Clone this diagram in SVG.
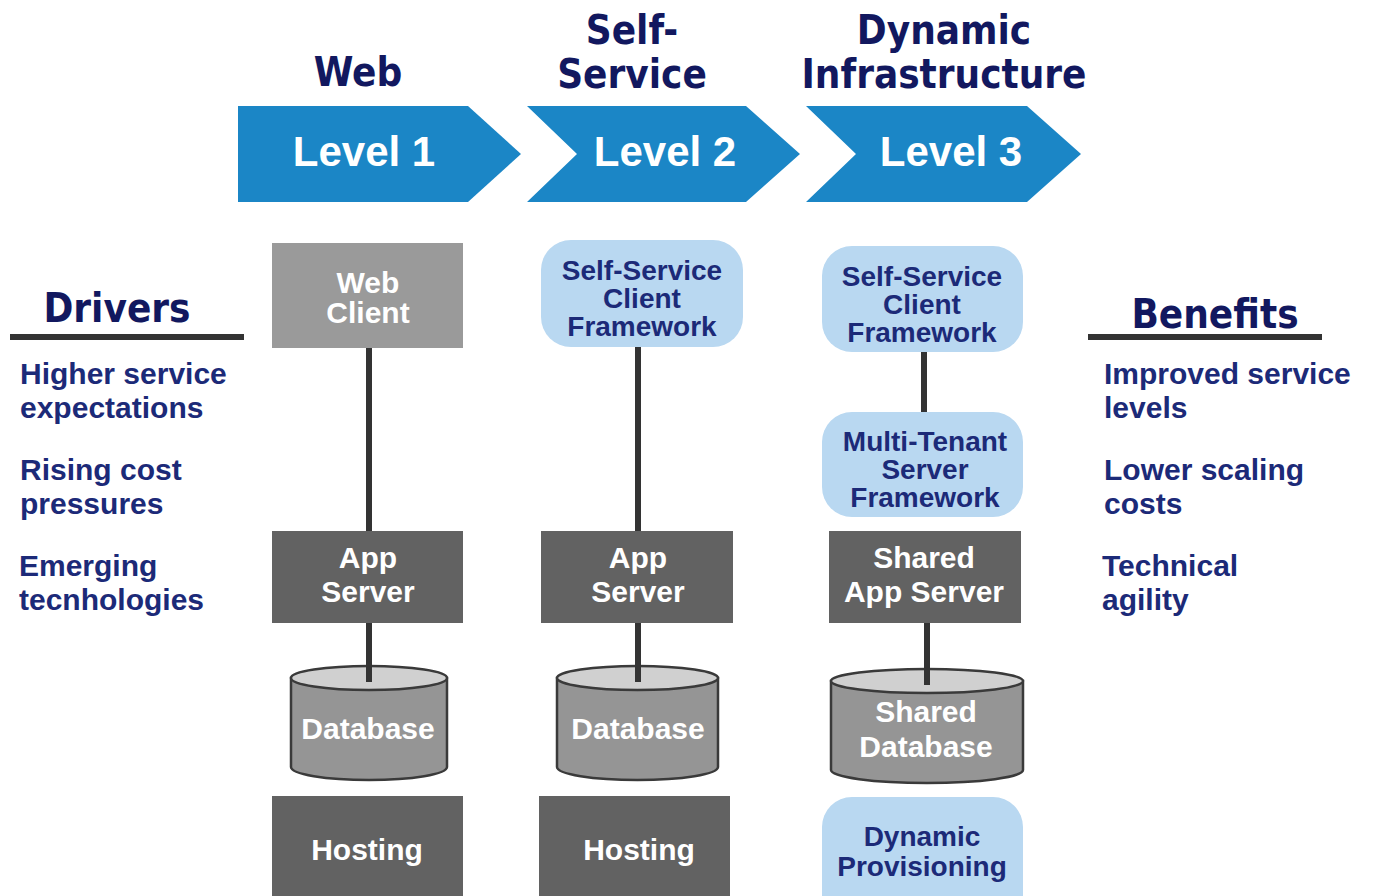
<svg xmlns="http://www.w3.org/2000/svg" width="1375" height="896" viewBox="0 0 1375 896">
  <style>
    .hdr { font-family: "DejaVu Sans Condensed", "DejaVu Sans", sans-serif; font-stretch: condensed; font-weight: bold; font-size: 40px; fill: #12185f; text-anchor: middle; }
    .lvl { font-family: "Liberation Sans", Arial, sans-serif; font-weight: bold; font-size: 42px; fill: #ffffff; text-anchor: middle; }
    .side { font-family: "Liberation Sans", Arial, sans-serif; font-weight: bold; font-size: 30px; fill: #1c2a78; }
    .wt { font-family: "Liberation Sans", Arial, sans-serif; font-weight: bold; font-size: 30px; fill: #ffffff; text-anchor: middle; }
    .bt { font-family: "Liberation Sans", Arial, sans-serif; font-weight: bold; font-size: 28px; fill: #1c2a78; text-anchor: middle; }
    .chev { fill: #1b86c6; }
    .lite { fill: #9a9a9a; }
    .dark { fill: #626262; }
    .blue { fill: #b9d8f1; }
    .cyl { fill: #959595; stroke: #3a3a3a; stroke-width: 2.5; }
    .cyltop { fill: #d0d0d0; stroke: #3a3a3a; stroke-width: 2.5; }
    .bar { fill: #333333; }
    .link { stroke: #333333; stroke-width: 6; fill: none; }
  </style>

  <!-- column headings -->
  <g id="headings">
    <text class="hdr" x="358" y="86">Web</text>
    <text class="hdr" x="632" y="44">Self-</text>
    <text class="hdr" x="632" y="88">Service</text>
    <text class="hdr" x="944" y="44">Dynamic</text>
    <text class="hdr" x="944" y="88">Infrastructure</text>
  </g>

  <!-- level chevrons -->
  <g id="level1">
    <polygon class="chev" points="238,106 468,106 521,154 468,202 238,202"/>
    <text class="lvl" x="364" y="166">Level 1</text>
  </g>
  <g id="level2">
    <polygon class="chev" points="527,106 746,106 800,154 746,202 527,202 577,154"/>
    <text class="lvl" x="665" y="166">Level 2</text>
  </g>
  <g id="level3">
    <polygon class="chev" points="806,106 1027,106 1081,154 1027,202 806,202 856,154"/>
    <text class="lvl" x="951" y="166">Level 3</text>
  </g>

  <!-- drivers -->
  <g id="drivers">
    <text class="hdr" x="117" y="322">Drivers</text>
    <rect class="bar" x="10" y="334" width="234" height="6"/>
    <text class="side" x="20" y="384">Higher service</text>
    <text class="side" x="20" y="418">expectations</text>
    <text class="side" x="20" y="480">Rising cost</text>
    <text class="side" x="20" y="514">pressures</text>
    <text class="side" x="19" y="576">Emerging</text>
    <text class="side" x="19" y="610">tecnhologies</text>
  </g>

  <!-- benefits -->
  <g id="benefits">
    <text class="hdr" x="1215" y="328">Benefits</text>
    <rect class="bar" x="1088" y="334" width="234" height="6"/>
    <text class="side" x="1104" y="384">Improved service</text>
    <text class="side" x="1104" y="418">levels</text>
    <text class="side" x="1104" y="480">Lower scaling</text>
    <text class="side" x="1104" y="514">costs</text>
    <text class="side" x="1102" y="576">Technical</text>
    <text class="side" x="1102" y="610">agility</text>
  </g>

  <!-- connectors -->
  <g id="connectors">
    <line class="link" x1="369" y1="348" x2="369" y2="531"/>
    <line class="link" x1="369" y1="623" x2="369" y2="682"/>
    <line class="link" x1="638" y1="347" x2="638" y2="531"/>
    <line class="link" x1="638" y1="623" x2="638" y2="682"/>
    <line class="link" x1="924" y1="352" x2="924" y2="412"/>
    <line class="link" x1="927" y1="623" x2="927" y2="683"/>
  </g>

  <!-- level 1 stack -->
  <g id="web-client">
    <rect class="lite" x="272" y="243" width="191" height="105"/>
    <text class="wt" x="368" y="293">Web</text>
    <text class="wt" x="368" y="323">Client</text>
  </g>
  <g id="app-server-1">
    <rect class="dark" x="272" y="531" width="191" height="92"/>
    <text class="wt" x="368" y="568">App</text>
    <text class="wt" x="368" y="602">Server</text>
  </g>
  <g id="database-1">
    <path class="cyl" d="M291,678 L291,767 A78,13 0 0 0 447,767 L447,678 Z"/>
    <ellipse class="cyltop" cx="369" cy="678" rx="78" ry="12"/>
    <line class="link" x1="369" y1="665" x2="369" y2="682"/>
    <text class="wt" x="368" y="739">Database</text>
  </g>
  <g id="hosting-1">
    <rect class="dark" x="272" y="796" width="191" height="100"/>
    <text class="wt" x="367" y="860">Hosting</text>
  </g>

  <!-- level 2 stack -->
  <g id="ss-client-2">
    <rect class="blue" x="541" y="240" width="202" height="107" rx="30"/>
    <text class="bt" x="642" y="280">Self-Service</text>
    <text class="bt" x="642" y="308">Client</text>
    <text class="bt" x="642" y="336">Framework</text>
  </g>
  <g id="app-server-2">
    <rect class="dark" x="541" y="531" width="192" height="92"/>
    <text class="wt" x="638" y="568">App</text>
    <text class="wt" x="638" y="602">Server</text>
  </g>
  <g id="database-2">
    <path class="cyl" d="M557,678 L557,767 A80.5,13 0 0 0 718,767 L718,678 Z"/>
    <ellipse class="cyltop" cx="637.5" cy="678" rx="80.5" ry="12"/>
    <line class="link" x1="638" y1="665" x2="638" y2="682"/>
    <text class="wt" x="638" y="739">Database</text>
  </g>
  <g id="hosting-2">
    <rect class="dark" x="539" y="796" width="191" height="100"/>
    <text class="wt" x="639" y="860">Hosting</text>
  </g>

  <!-- level 3 stack -->
  <g id="ss-client-3">
    <rect class="blue" x="822" y="246" width="201" height="106" rx="30"/>
    <text class="bt" x="922" y="286">Self-Service</text>
    <text class="bt" x="922" y="314">Client</text>
    <text class="bt" x="922" y="342">Framework</text>
  </g>
  <g id="multi-tenant">
    <rect class="blue" x="822" y="412" width="201" height="105" rx="30"/>
    <text class="bt" x="925" y="451">Multi-Tenant</text>
    <text class="bt" x="925" y="479">Server</text>
    <text class="bt" x="925" y="507">Framework</text>
  </g>
  <g id="shared-app-server">
    <rect class="dark" x="829" y="531" width="192" height="92"/>
    <text class="wt" x="924" y="568">Shared</text>
    <text class="wt" x="924" y="602">App Server</text>
  </g>
  <g id="shared-database">
    <path class="cyl" d="M831,681 L831,770 A96,13 0 0 0 1023,770 L1023,681 Z"/>
    <ellipse class="cyltop" cx="927" cy="681" rx="96" ry="12"/>
    <line class="link" x1="927" y1="665" x2="927" y2="685"/>
    <text class="wt" x="926" y="722">Shared</text>
    <text class="wt" x="926" y="757">Database</text>
  </g>
  <g id="dynamic-provisioning">
    <rect class="blue" x="822" y="797" width="201" height="130" rx="30"/>
    <text class="bt" x="922" y="846">Dynamic</text>
    <text class="bt" x="922" y="876">Provisioning</text>
  </g>
</svg>
